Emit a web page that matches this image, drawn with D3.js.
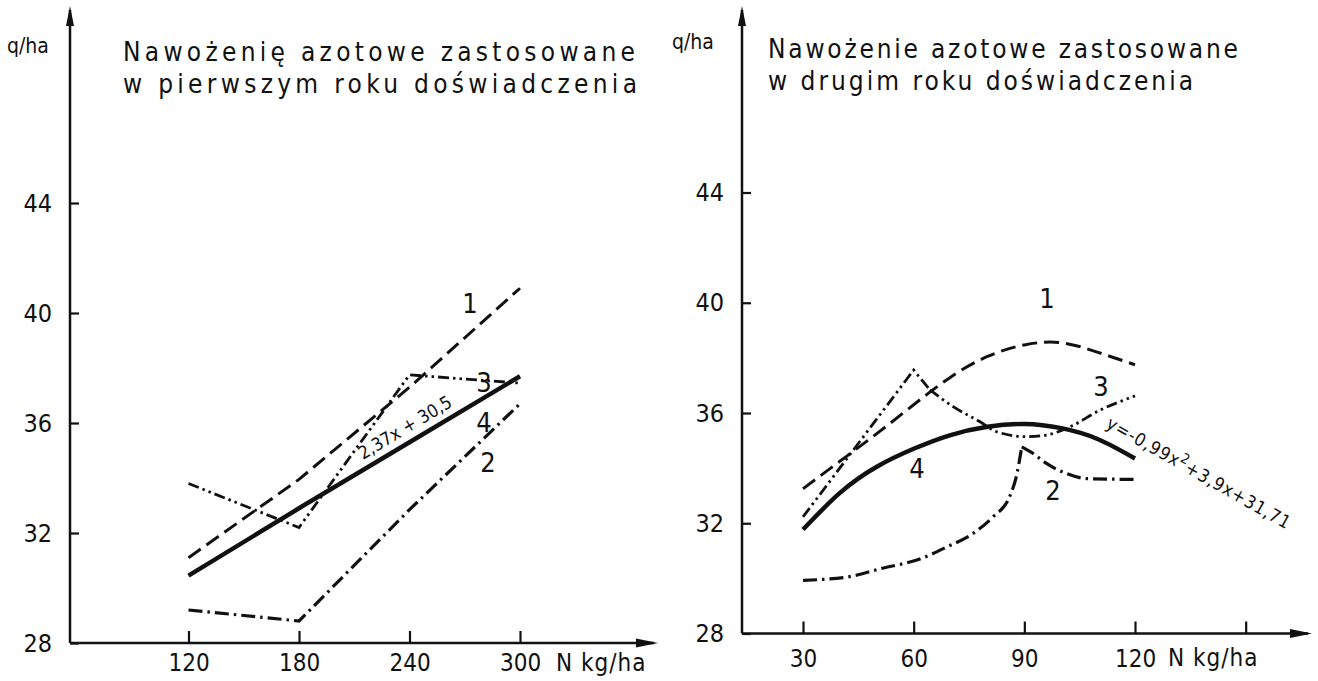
<!DOCTYPE html>
<html>
<head>
<meta charset="utf-8">
<script src="https://cdn.jsdelivr.net/npm/d3@7"></script>
<style>
  body { margin: 0; background: #fff; }
  text { font-family: "DejaVu Sans Condensed", "DejaVu Sans", "Noto Sans", sans-serif; fill: #111; }
</style>
</head>
<body>
<svg id="chart" width="1318" height="681"></svg>
<script>
// values (q/ha against N kg/ha)
var ticksY = [28, 32, 36, 40, 44];

// left panel - nitrogen applied in the first year
var leftTicksX = [120, 180, 240, 300];
var leftDoses = [120, 180, 240, 300];
var leftCurve1 = [31.1, 33.95, 37.3, 40.9];
var leftCurve2 = [29.2, 28.8, 32.85, 36.7];
var leftCurve3 = [33.8, 32.2, 37.75, 37.45];
var leftCurve4 = [30.45, 32.9, 35.3, 37.7];

// right panel - nitrogen applied in the second year
var rightTicksX = [30, 60, 90, 120, 150];
var rightX1 = [30, 40, 50, 60, 70, 80, 90, 100, 110, 120];
var rightCurve1 = [33.25, 34.25, 35.25, 36.3, 37.3, 38.05, 38.47, 38.55, 38.2, 37.75];
var rightX2a = [30, 42, 51, 62, 69, 76, 81.5, 86, 88, 89.3];
var rightCurve2a = [29.93, 30.05, 30.35, 30.72, 31.14, 31.62, 32.23, 32.96, 33.8, 34.77];
var rightX2b = [89.3, 92.4, 96, 101.5, 107, 120];
var rightCurve2b = [34.77, 34.53, 34.17, 33.8, 33.62, 33.59];
var rightX3a = [30, 60, 64.4];
var rightCurve3a = [32.23, 37.56, 36.84];
var rightX3b = [64.4, 70.7, 78, 82.5, 90.6, 96, 102.4, 110.5, 120];
var rightCurve3b = [36.84, 36.23, 35.68, 35.32, 35.14, 35.2, 35.5, 36.1, 36.62];
var rightX4 = [30, 40, 50, 60, 70, 80, 90, 100, 110, 120];
var rightCurve4 = [31.77, 33.1, 34.05, 34.7, 35.2, 35.5, 35.6, 35.45, 35.05, 34.35];

var svg = d3.select("#chart");
var ink = "#111";

// line styles of the original drawing
var dashed = { w: 3, dash: "15,7" };
var dashDot = { w: 3.2, dash: "14,5,2.5,5" };
var dashDotDot = { w: 2.8, dash: "11,4,2.5,4,2.5,4" };
var solid = { w: 4.4, dash: null };

function drawLine(g, x, y, xs, ys, style, curve) {
    var line = d3.line()
        .x(function(d, i) { return x(xs[i]); })
        .y(function(d) { return y(d); })
        .curve(curve || d3.curveLinear);
    g.append("path")
        .datum(ys)
        .attr("d", line)
        .attr("fill", "none")
        .attr("stroke", ink)
        .attr("stroke-width", style.w)
        .attr("stroke-dasharray", style.dash)
        .attr("stroke-linejoin", "miter");
}

function drawAxes(g, p) {
    // y axis: ticks point inward, labels far left
    var yAxis = d3.axisLeft(p.y).tickValues(ticksY)
        .tickSizeInner(-9).tickSizeOuter(0).tickPadding(p.yPad);
    var ya = g.append("g").attr("transform", "translate(" + p.x0 + ",0)").call(yAxis);
    ya.select(".domain").remove();
    ya.selectAll("line").attr("stroke", ink).attr("stroke-width", 2.2);
    ya.selectAll("text").attr("font-size", 25).attr("fill", ink);

    // x axis: ticks point up
    var xAxis = d3.axisBottom(p.x).tickValues(p.ticksX)
        .tickSizeInner(-12).tickSizeOuter(0).tickPadding(p.xPad)
        .tickFormat(function(d) { return p.labelsX.indexOf(d) >= 0 ? d : ""; });
    var xa = g.append("g").attr("transform", "translate(0," + p.y0 + ")").call(xAxis);
    xa.select(".domain").remove();
    xa.selectAll("line").attr("stroke", ink).attr("stroke-width", 2.2);
    xa.selectAll("text").attr("font-size", 24).attr("fill", ink);

    // axis lines with arrow heads
    g.append("line").attr("x1", p.x0).attr("y1", p.y0).attr("x2", p.x0).attr("y2", p.yTop + 4)
        .attr("stroke", ink).attr("stroke-width", 2.5);
    g.append("path")
        .attr("d", "M" + p.x0 + "," + p.yTop + "L" + (p.x0 - 4) + "," + (p.yTop + 20) +
            "L" + (p.x0 + 4) + "," + (p.yTop + 20) + "Z")
        .attr("fill", ink);
    g.append("line").attr("x1", p.x0).attr("y1", p.y0).attr("x2", p.xEnd - 4).attr("y2", p.y0)
        .attr("stroke", ink).attr("stroke-width", 2.5);
    g.append("path")
        .attr("d", "M" + p.xEnd + "," + p.y0 + "L" + (p.xEnd - 22) + "," + (p.y0 - 4.5) +
            "L" + (p.xEnd - 22) + "," + (p.y0 + 4.5) + "Z")
        .attr("fill", ink);
}

function curveLabel(g, x, y, txt) {
    g.append("text").attr("x", x).attr("y", y + 10)
        .attr("text-anchor", "middle").attr("font-size", 27).text(txt);
}

// ---------------- left panel ----------------
var xL = d3.scaleLinear().domain([120, 300]).range([188.5, 520]);
var yL = d3.scaleLinear().domain([28, 44]).range([643, 203]);
var gL = svg.append("g");

drawAxes(gL, { x: xL, y: yL, x0: 70, y0: 643, yTop: 6, xEnd: 658,
    ticksX: leftTicksX, labelsX: leftTicksX, yPad: 18, xPad: 11 });

gL.append("text").attr("x", 7).attr("y", 53).attr("font-size", 21).text("q/ha");
gL.append("text").attr("x", 556).attr("y", 671).attr("font-size", 24)
    .attr("letter-spacing", 1).text("N kg/ha");

gL.append("text").attr("x", 123).attr("y", 61).attr("font-size", 26)
    .attr("textLength", 512).attr("lengthAdjust", "spacing")
    .text("Nawożenię  azotowe  zastosowane");
gL.append("text").attr("x", 123).attr("y", 93).attr("font-size", 26)
    .attr("textLength", 514).attr("lengthAdjust", "spacing")
    .text("w  pierwszym  roku  doświadczenia");

drawLine(gL, xL, yL, leftDoses, leftCurve1, dashed);
drawLine(gL, xL, yL, leftDoses, leftCurve2, dashDot);
drawLine(gL, xL, yL, leftDoses, leftCurve3, dashDotDot);
drawLine(gL, xL, yL, leftDoses, leftCurve4, solid);

curveLabel(gL, 470, 303, "1");
curveLabel(gL, 484, 382, "3");
curveLabel(gL, 484, 422, "4");
curveLabel(gL, 488, 462, "2");

gL.append("text").attr("transform", "translate(363,460) rotate(-31)")
    .attr("font-size", 18).text("2,37x + 30,5");

// ---------------- right panel ----------------
var xR = d3.scaleLinear().domain([30, 120]).range([803, 1135]);
var yR = d3.scaleLinear().domain([28, 44]).range([633.5, 192.5]);
var gR = svg.append("g");

drawAxes(gR, { x: xR, y: yR, x0: 742, y0: 633.5, yTop: 6, xEnd: 1312,
    ticksX: rightTicksX, labelsX: [30, 60, 90, 120], yPad: 18, xPad: 16 });

gR.append("text").attr("x", 672).attr("y", 49).attr("font-size", 21).text("q/ha");
gR.append("text").attr("x", 1168).attr("y", 666).attr("font-size", 24)
    .attr("letter-spacing", 1).text("N kg/ha");

gR.append("text").attr("x", 768).attr("y", 58).attr("font-size", 26)
    .attr("textLength", 470).attr("lengthAdjust", "spacing")
    .text("Nawożenie  azotowe  zastosowane");
gR.append("text").attr("x", 768).attr("y", 90).attr("font-size", 26)
    .attr("textLength", 425).attr("lengthAdjust", "spacing")
    .text("w  drugim  roku  doświadczenia");

drawLine(gR, xR, yR, rightX1, rightCurve1, dashed, d3.curveNatural);
drawLine(gR, xR, yR, rightX2a, rightCurve2a, dashDot, d3.curveMonotoneX);
drawLine(gR, xR, yR, rightX2b, rightCurve2b, dashDot, d3.curveMonotoneX);
drawLine(gR, xR, yR, rightX3a, rightCurve3a, dashDotDot);
drawLine(gR, xR, yR, rightX3b, rightCurve3b, dashDotDot, d3.curveMonotoneX);
drawLine(gR, xR, yR, rightX4, rightCurve4, solid, d3.curveNatural);

curveLabel(gR, 1047, 298, "1");
curveLabel(gR, 1101, 386, "3");
curveLabel(gR, 917, 468, "4");
curveLabel(gR, 1053, 490, "2");

var eq = gR.append("text").attr("transform", "translate(1105,427) rotate(29.5)")
    .attr("font-size", 18).attr("textLength", 208).attr("lengthAdjust", "spacing");
eq.append("tspan").text("y=-0,99x");
eq.append("tspan").attr("dy", -7).attr("font-size", 14).text("2");
eq.append("tspan").attr("dy", 7).text("+3,9x+31,71");
</script>
</body>
</html>
